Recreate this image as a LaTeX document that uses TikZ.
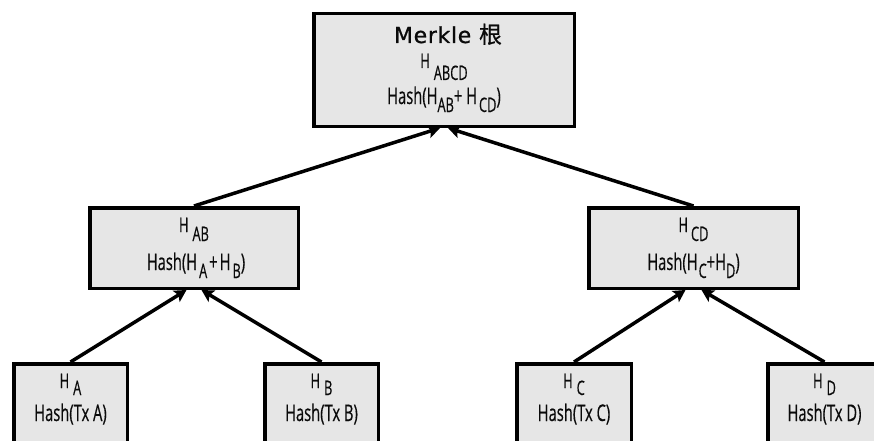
\documentclass[tikz,border=0pt]{standalone}
\usepackage{fontspec}
\usetikzlibrary{arrows.meta}
\definecolor{boxgray}{HTML}{E6E6E6}
\definecolor{txt}{HTML}{0A0A0A}
\newfontfamily\condfont[FakeStretch=0.64,FakeBold=0.4]{Open Sans}
\newfontfamily\merklefont[LetterSpace=3,FakeBold=0.8]{DejaVu Sans}
\newfontfamily\cjkfont[FakeBold=0.6]{Noto Sans CJK SC}
\newcommand\hashsz{\fontsize{23pt}{23pt}\selectfont}
\newcommand\hsz{\fontsize{20pt}{20pt}\selectfont}
\newcommand\lowr[2]{\raisebox{-#1}{\hsz #2}}
\begin{document}
\begin{tikzpicture}[x=1pt,y=-1pt,
  box/.style={draw=black, line width=3.5pt, fill=boxgray, inner sep=0pt},
  lbl/.style={anchor=base, inner sep=0pt, text=txt, font=\condfont},
  conn/.style={line width=3.5pt, -{Stealth[length=12pt,width=13pt,inset=2.5pt]}}]
\useasboundingbox (0,0) rectangle (874,441);
\clip (0,0) rectangle (874,441);
\fill[white] (0,0) rectangle (874,441);
% boxes
\node[box, minimum width=260.5pt, minimum height=112.5pt] (root) at (444,70) {};
\node[box, minimum width=208.5pt, minimum height=80.5pt] (AB) at (194,248) {};
\node[box, minimum width=209.5pt, minimum height=80.5pt] (CD) at (693.5,248) {};
\node[box, minimum width=113.5pt, minimum height=114.5pt] (A) at (70.5,421) {};
\node[box, minimum width=113.5pt, minimum height=114.5pt] (B) at (321.5,421) {};
\node[box, minimum width=114.5pt, minimum height=114.5pt] (C) at (574,421) {};
\node[box, minimum width=113.5pt, minimum height=114.5pt] (D) at (824.5,421) {};
% texts
\node[lbl] (rootT1) at (448,43) {{\merklefont\fontsize{22pt}{22pt}\selectfont Merkle }{\cjkfont\fontsize{23pt}{23pt}\selectfont 根}};
\node[lbl] (rootT2) at (444,68) {\hsz H\hspace{4pt}\lowr{12pt}{ABCD}};
\node[lbl] (rootT3) at (444,104) {\hashsz Hash(H\lowr{8pt}{AB}+ H\hspace{2pt}\lowr{8pt}{CD})};
\node[lbl] (ABT1) at (194,232) {\hsz H\hspace{4pt}\lowr{9pt}{AB}};
\node[lbl] (ABT2) at (196,270) {\hashsz Hash(H\hspace{2pt}\lowr{8pt}{A}\hspace{2pt}+\hspace{2pt}H\hspace{2pt}\lowr{8pt}{B})};
\node[lbl] (CDT1) at (693.5,232) {\hsz H\hspace{3pt}\lowr{9pt}{CD}};
\node[lbl] (CDT2) at (693.5,270) {\hashsz Hash(H\hspace{1pt}\lowr{8pt}{C}+H\lowr{8pt}{D})};
\node[lbl] (AT1) at (70.5,388) {\hsz H\hspace{4pt}\lowr{7pt}{A}};
\node[lbl] (AT2) at (70.5,421) {\hashsz Hash(Tx A)};
\node[lbl] (BT1) at (321.5,388) {\hsz H\hspace{4pt}\lowr{7pt}{B}};
\node[lbl] (BT2) at (321.5,421) {\hashsz Hash(Tx B)};
\node[lbl] (CT1) at (574,388) {\hsz H\hspace{4pt}\lowr{7pt}{C}};
\node[lbl] (CT2) at (574,421) {\hashsz Hash(Tx C)};
\node[lbl] (DT1) at (824.5,388) {\hsz H\hspace{4pt}\lowr{7pt}{D}};
\node[lbl] (DT2) at (824.5,421) {\hashsz Hash(Tx D)};
% connectors
\draw[conn] (A.north) -- ([xshift=-7.5pt]AB.south);
\draw[conn] (B.north) -- ([xshift=7.5pt]AB.south);
\draw[conn] (C.north) -- ([xshift=-8pt]CD.south);
\draw[conn] (D.north) -- ([xshift=8pt]CD.south);
\draw[conn] (AB.north) -- ([xshift=-4pt]root.south);
\draw[conn] (CD.north) -- ([xshift=4pt]root.south);
\end{tikzpicture}
\end{document}
